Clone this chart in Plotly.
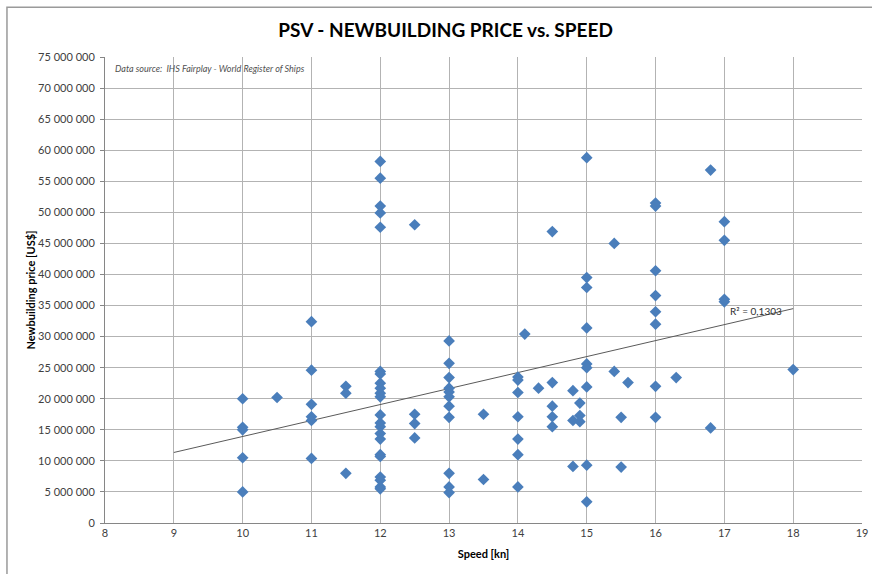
import plotly.graph_objects as go

# speed [kn] and newbuilding price [million US$]
speed = (
    [10] * 5 + [10.5] + [11] * 6 + [11.5] * 3 + [12] * 22 + [12.5] * 4
    + [13] * 11 + [13.5] * 2 + [14] * 7 + [14.1, 14.3] + [14.5] * 5
    + [14.8] * 3 + [14.9] * 3 + [15] * 9 + [15.4] * 2 + [15.5] * 2 + [15.6]
    + [16] * 8 + [16.3] + [16.8] * 2 + [17] * 4 + [18]
)
price_m = [
    20.0, 15.4, 15.0, 10.5, 5.0,
    20.2,
    32.4, 24.6, 19.1, 17.1, 16.5, 10.4,
    22.0, 20.9, 8.0,
    58.2, 55.5, 51.0, 49.9, 47.6, 24.4, 24.0, 22.5, 21.7, 20.9, 20.3,
    17.4, 16.1, 15.5, 14.4, 13.5, 11.0, 10.7, 7.4, 6.9, 5.8, 5.5,
    48.0, 17.5, 16.0, 13.7,
    29.3, 25.7, 23.4, 21.7, 21.1, 20.3, 18.8, 17.0, 8.0, 5.8, 4.9,
    17.5, 7.0,
    23.5, 23.0, 21.0, 17.1, 13.5, 11.0, 5.8,
    30.4, 21.7,
    46.9, 22.6, 18.8, 17.1, 15.5,
    21.3, 16.5, 9.1,
    19.3, 17.3, 16.3,
    58.8, 39.5, 37.9, 31.4, 25.6, 25.0, 21.9, 9.3, 3.4,
    45.0, 24.4,
    17.0, 9.0,
    22.6,
    51.5, 51.0, 40.6, 36.6, 34.0, 32.0, 22.0, 17.0,
    23.4,
    56.8, 15.3,
    48.5, 45.5, 36.0, 35.6,
    24.7,
]
price = [p * 1e6 for p in price_m]

# linear trendline as drawn in the chart (ends)
trend_x = [9, 18]
trend_y_m = [11.35, 34.5]
trend_y = [v * 1e6 for v in trend_y_m]
r2_text = "R² = 0,1303"
r2_pos = (17.05, 34.1e6)

font_family = "Lato, Open Sans, sans-serif"
grid = "#b3b3b3"
tick_font = dict(family=font_family, size=11, color="#404040")

fig = go.Figure()
fig.add_trace(go.Scatter(
    x=trend_x, y=trend_y, mode="lines",
    line=dict(color="#5a5a5a", width=1), hoverinfo="skip",
))
fig.add_trace(go.Scatter(
    x=speed, y=price, mode="markers",
    marker=dict(symbol="diamond", size=9, color="#4a7ebb",
                line=dict(width=0)),
))

fig.update_layout(
    width=872, height=574,
    margin=dict(l=105, r=10, t=57, b=51),
    paper_bgcolor="white", plot_bgcolor="white",
    showlegend=False,
    separators=", ",
    title=dict(text="<b>PSV - NEWBUILDING PRICE vs. SPEED</b>",
               x=0.511, xanchor="center", y=0.947, yanchor="middle",
               font=dict(family=font_family, size=19, color="black")),
    xaxis=dict(
        range=[8, 19], dtick=1, tick0=8, automargin=False,
        showgrid=True, gridcolor=grid, gridwidth=1,
        showline=True, linecolor="#868686", linewidth=1,
        ticks="", tickfont=tick_font, zeroline=False,
        title=dict(text="<b>Speed [kn]</b>", standoff=12,
                   font=dict(family=font_family, size=11, color="black")),
    ),
    yaxis=dict(
        range=[0, 75e6], dtick=5e6, tickformat=",d", automargin=False,
        showgrid=True, gridcolor=grid, gridwidth=1,
        showline=True, linecolor="#868686", linewidth=1,
        ticks="outside", ticklen=4, tickcolor="#868686",
        ticklabelstandoff=3,
        tickfont=tick_font, zeroline=False,
        title=dict(text="<b>Newbuilding price [US$]</b>", standoff=0,
                   font=dict(family=font_family, size=11, color="black")),
    ),
)

fig.add_annotation(
    text="<i>Data source:  IHS Fairplay - World Register of Ships</i>",
    xref="paper", yref="paper", x=0.011, y=0.975,
    xanchor="left", yanchor="middle", showarrow=False,
    font=dict(family=font_family, size=9, color="#505050"),
)
fig.add_annotation(
    text=r2_text, x=r2_pos[0], y=r2_pos[1],
    xanchor="left", yanchor="middle", showarrow=False,
    font=dict(family=font_family, size=10, color="#303030"),
)

# outer chart frame (right and bottom edges run off the picture)
fig.add_shape(type="rect", xref="paper", yref="paper",
              x0=-0.1295, x1=1.03, y0=-0.2, y1=1.107,
              line=dict(color="#9a9a9a", width=1.5), layer="below")

# drop the browser's default body margin so the figure sits at the corner
fig.write_html("out.html", config={"displayModeBar": False},
               post_script="document.body.style.margin = '0';")
